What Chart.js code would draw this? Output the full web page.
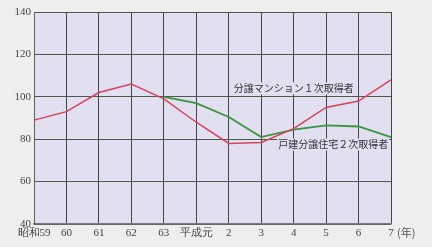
<!DOCTYPE html>
<html>
<head>
<meta charset="utf-8">
<script src="https://cdn.jsdelivr.net/npm/chart.js@4"></script>
<style>
  html, body { margin: 0; padding: 0; background: #eeeeee; }
  #wrap { width: 432px; height: 247px; }
</style>
</head>
<body>
<div id="wrap"><canvas id="chart" width="432" height="247"></canvas></div>
<script>
// 年次 (昭和59 〜 平成7)
const years = ['昭和59', '60', '61', '62', '63', '平成元', '2', '3', '4', '5', '6', '7'];
// 分譲マンション1次取得者
const condoFirst = [89, 93, 102, 106, 99, 88, 78, 78.5, 85, 95, 98, 108];
// 戸建分譲住宅2次取得者 (昭和63から)
const houseSecond = [null, null, null, null, 100, 97, 90.5, 81, 84.5, 86.5, 86, 81];
const yTicks = [40, 60, 80, 100, 120, 140];

const plotBg = '#e1dff0';
const gridColor = '#4c5a4c';
const serif = '"Liberation Serif", "DejaVu Serif", serif';
const jp = '"Noto Sans CJK JP", sans-serif';

// plot background, series labels and unit label
const decor = {
    id: 'decor',
    beforeDraw(chart) {
        const { ctx, chartArea: a } = chart;
        ctx.save();
        ctx.fillStyle = plotBg;
        ctx.fillRect(a.left, a.top, a.right - a.left, a.bottom - a.top);
        ctx.restore();
    },
    afterDraw(chart) {
        const { ctx, scales } = chart;
        const x = scales.x, y = scales.y;
        ctx.save();
        ctx.font = '10px ' + jp;
        ctx.textBaseline = 'middle';

        const labels = [
            { text: '分譲マンション１次取得者', x: x.getPixelForValue(6) + 5, y: y.getPixelForValue(104) },
            { text: '戸建分譲住宅２次取得者', x: x.getPixelForValue(7) + 17, y: y.getPixelForValue(77.5) }
        ];
        labels.forEach(l => {
            const w = ctx.measureText(l.text).width;
            ctx.fillStyle = plotBg;
            ctx.fillRect(l.x - 1, l.y - 6, w + 2, 12);
            ctx.fillStyle = '#333333';
            ctx.fillText(l.text, l.x, l.y);
        });

        // unit after last tick
        ctx.font = '11px ' + jp;
        ctx.fillStyle = '#555555';
        ctx.fillText('(年)', x.getPixelForValue(11) + 6, y.bottom + 9);
        ctx.restore();
    }
};

const ctx = document.getElementById('chart').getContext('2d');
const chart = new Chart(ctx, {
    type: 'line',
    data: {
        labels: years,
        datasets: [
            {
                label: '分譲マンション１次取得者',
                data: condoFirst,
                borderColor: '#d6415e',
                borderWidth: 1.5,
                pointRadius: 0,
                tension: 0,
                fill: false
            },
            {
                label: '戸建分譲住宅２次取得者',
                data: houseSecond,
                borderColor: '#3a9440',
                borderWidth: 1.8,
                pointRadius: 0,
                tension: 0,
                fill: false
            }
        ]
    },
    options: {
        responsive: false,
        animation: false,
        layout: { padding: { left: 0, right: 41, top: 12, bottom: 0 } },
        plugins: {
            legend: { display: false },
            tooltip: { enabled: false }
        },
        scales: {
            x: {
                offset: false,
                grid: { color: '#3e4646', lineWidth: 1, drawTicks: false },
                border: { color: '#777788', width: 1.5 },
                ticks: {
                    color: '#444444',
                    font: { family: serif, size: 11 },
                    padding: 3,
                    maxRotation: 0,
                    autoSkip: false,
                    callback: (v, i) => years[i]
                },
                afterFit: s => { s.height = 23; }
            },
            y: {
                min: 40,
                max: 140,
                afterBuildTicks: s => { s.ticks = yTicks.map(v => ({ value: v })); },
                grid: { color: gridColor, lineWidth: 1, drawTicks: false },
                border: { color: '#556655', width: 1 },
                ticks: {
                    color: '#444444',
                    font: { family: serif, size: 11 },
                    padding: 3
                },
                afterFit: s => { s.width = 34; }
            }
        }
    },
    plugins: [decor]
});
</script>
</body>
</html>
